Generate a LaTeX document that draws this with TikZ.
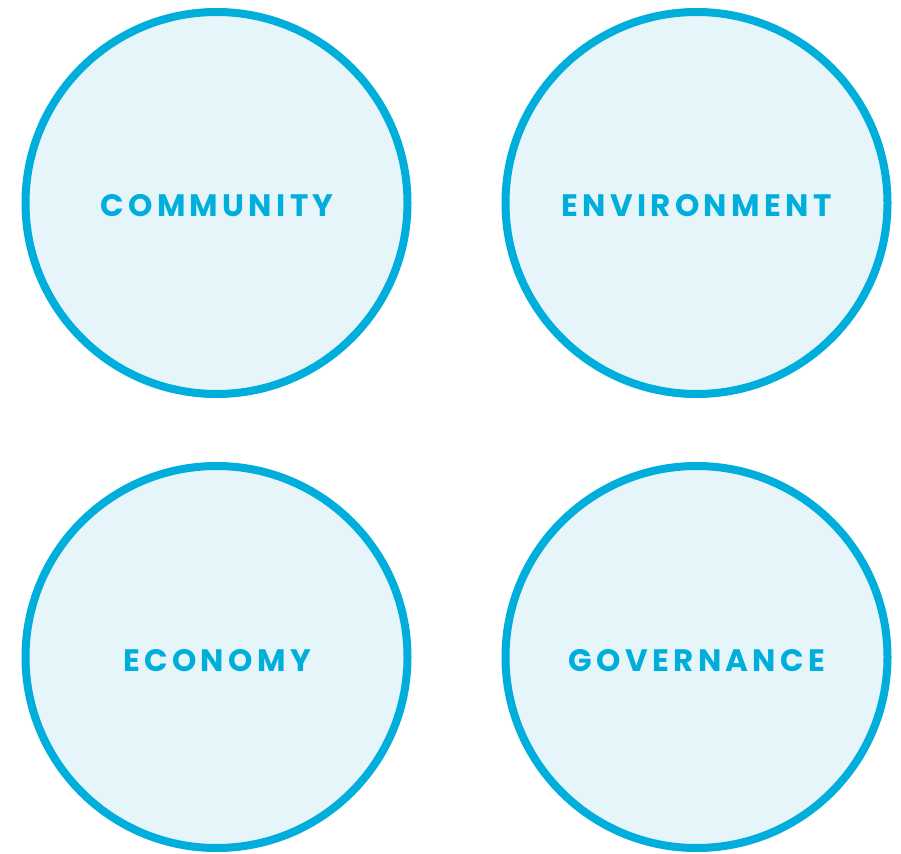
\documentclass[tikz,border=0pt]{standalone}
\usepackage{fontspec}
\newfontfamily\labfont[LetterSpace=14]{Poppins}
\definecolor{ring}{HTML}{00AEDB}
\definecolor{disc}{HTML}{E6F5FA}
\begin{document}
\begin{tikzpicture}[x=1pt,y=-1pt,
  pillar/.style={circle, draw=ring, fill=disc, line width=8pt, minimum size=382pt, inner sep=0pt},
  lab/.style={text=ring, inner sep=0pt, anchor=center, font=\labfont\bfseries\fontsize{31}{31}\selectfont}]
\useasboundingbox (0,0) rectangle (901,853);
\node[pillar] (c1) at (216.5,203) {};
\node[pillar] (c2) at (696.5,203) {};
\node[pillar] (c3) at (216.5,657) {};
\node[pillar] (c4) at (696.5,657) {};
\node[lab] (t1) at (217,205.5) {COMMUNITY};
\node[lab] (t2) at (696.5,205.5) {ENVIRONMENT};
\node[lab] (t3) at (217,661) {ECONOMY};
\node[lab] (t4) at (697,661) {GOVERNANCE};
\end{tikzpicture}
\end{document}
